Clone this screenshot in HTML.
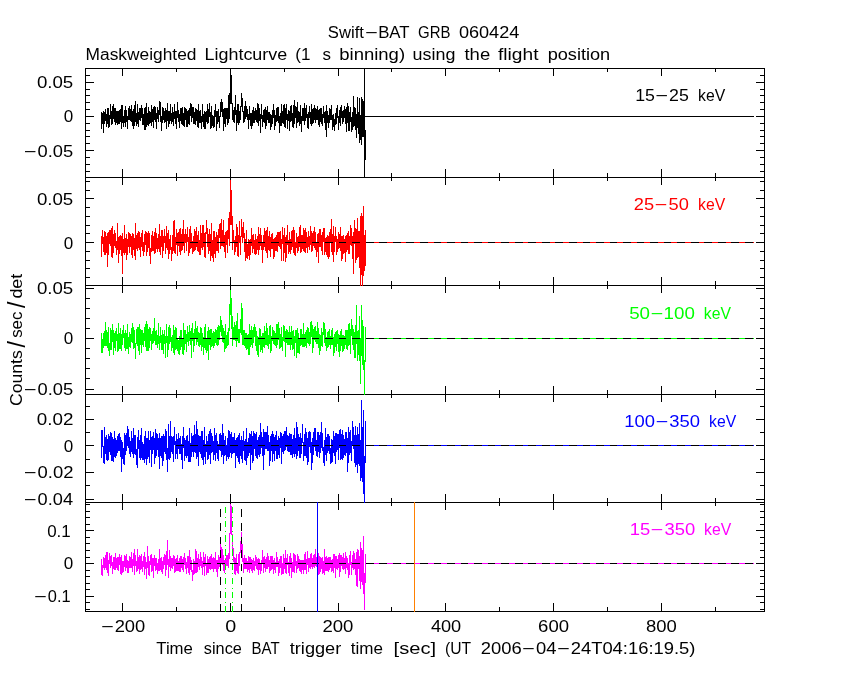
<!DOCTYPE html>
<html lang="en"><head><meta charset="utf-8"><title>Swift-BAT GRB 060424</title>
<style>
html,body{margin:0;padding:0;background:#fff;}
body{width:850px;height:680px;overflow:hidden;}
svg{display:block;}
text{font-family:"Liberation Sans",sans-serif;font-size:16px;fill:#000;}
.ln{shape-rendering:crispEdges;fill:none;stroke-width:1;}
</style></head><body>
<svg width="850" height="680" viewBox="0 0 850 680">
<rect x="0" y="0" width="850" height="680" fill="#ffffff"/>
<path class="ln" stroke="#000" d="M85.5,68.5H764.5V177.5H85.5ZM122.5,68.5v7.5M122.5,177.5v-8.5M176.5,68.5v3.5M176.5,177.5v-4.5M230.5,68.5v7.5M230.5,177.5v-8.5M284.5,68.5v3.5M284.5,177.5v-4.5M338.5,68.5v7.5M338.5,177.5v-8.5M391.5,68.5v3.5M391.5,177.5v-4.5M445.5,68.5v7.5M445.5,177.5v-8.5M499.5,68.5v3.5M499.5,177.5v-4.5M553.5,68.5v7.5M553.5,177.5v-8.5M607.5,68.5v3.5M607.5,177.5v-4.5M661.5,68.5v7.5M661.5,177.5v-8.5M715.5,68.5v3.5M715.5,177.5v-4.5M85.5,171.5h4.5M764.5,171.5h-4.5M85.5,164.5h4.5M764.5,164.5h-4.5M85.5,157.5h4.5M764.5,157.5h-4.5M85.5,150.5h8.5M764.5,150.5h-8.5M85.5,143.5h4.5M764.5,143.5h-4.5M85.5,136.5h4.5M764.5,136.5h-4.5M85.5,130.5h4.5M764.5,130.5h-4.5M85.5,123.5h4.5M764.5,123.5h-4.5M85.5,116.5h8.5M764.5,116.5h-8.5M85.5,109.5h4.5M764.5,109.5h-4.5M85.5,102.5h4.5M764.5,102.5h-4.5M85.5,95.5h4.5M764.5,95.5h-4.5M85.5,89.5h4.5M764.5,89.5h-4.5M85.5,82.5h8.5M764.5,82.5h-8.5M85.5,75.5h4.5M764.5,75.5h-4.5M85.5,177.5H764.5V285.5H85.5ZM122.5,177.5v7.5M122.5,285.5v-8.5M176.5,177.5v3.5M176.5,285.5v-4.5M230.5,177.5v7.5M230.5,285.5v-8.5M284.5,177.5v3.5M284.5,285.5v-4.5M338.5,177.5v7.5M338.5,285.5v-8.5M391.5,177.5v3.5M391.5,285.5v-4.5M445.5,177.5v7.5M445.5,285.5v-8.5M499.5,177.5v3.5M499.5,285.5v-4.5M553.5,177.5v7.5M553.5,285.5v-8.5M607.5,177.5v3.5M607.5,285.5v-4.5M661.5,177.5v7.5M661.5,285.5v-8.5M715.5,177.5v3.5M715.5,285.5v-4.5M85.5,277.5h4.5M764.5,277.5h-4.5M85.5,268.5h4.5M764.5,268.5h-4.5M85.5,260.5h4.5M764.5,260.5h-4.5M85.5,251.5h4.5M764.5,251.5h-4.5M85.5,242.5h8.5M764.5,242.5h-8.5M85.5,233.5h4.5M764.5,233.5h-4.5M85.5,225.5h4.5M764.5,225.5h-4.5M85.5,216.5h4.5M764.5,216.5h-4.5M85.5,207.5h4.5M764.5,207.5h-4.5M85.5,198.5h8.5M764.5,198.5h-8.5M85.5,190.5h4.5M764.5,190.5h-4.5M85.5,181.5h4.5M764.5,181.5h-4.5M85.5,285.5H764.5V394.5H85.5ZM122.5,285.5v7.5M122.5,394.5v-8.5M176.5,285.5v3.5M176.5,394.5v-4.5M230.5,285.5v7.5M230.5,394.5v-8.5M284.5,285.5v3.5M284.5,394.5v-4.5M338.5,285.5v7.5M338.5,394.5v-8.5M391.5,285.5v3.5M391.5,394.5v-4.5M445.5,285.5v7.5M445.5,394.5v-8.5M499.5,285.5v3.5M499.5,394.5v-4.5M553.5,285.5v7.5M553.5,394.5v-8.5M607.5,285.5v3.5M607.5,394.5v-4.5M661.5,285.5v7.5M661.5,394.5v-8.5M715.5,285.5v3.5M715.5,394.5v-4.5M85.5,389.5h8.5M764.5,389.5h-8.5M85.5,378.5h4.5M764.5,378.5h-4.5M85.5,368.5h4.5M764.5,368.5h-4.5M85.5,358.5h4.5M764.5,358.5h-4.5M85.5,348.5h4.5M764.5,348.5h-4.5M85.5,338.5h8.5M764.5,338.5h-8.5M85.5,328.5h4.5M764.5,328.5h-4.5M85.5,318.5h4.5M764.5,318.5h-4.5M85.5,308.5h4.5M764.5,308.5h-4.5M85.5,298.5h4.5M764.5,298.5h-4.5M85.5,288.5h8.5M764.5,288.5h-8.5M85.5,394.5H764.5V502.5H85.5ZM122.5,394.5v7.5M122.5,502.5v-8.5M176.5,394.5v3.5M176.5,502.5v-4.5M230.5,394.5v7.5M230.5,502.5v-8.5M284.5,394.5v3.5M284.5,502.5v-4.5M338.5,394.5v7.5M338.5,502.5v-8.5M391.5,394.5v3.5M391.5,502.5v-4.5M445.5,394.5v7.5M445.5,502.5v-8.5M499.5,394.5v3.5M499.5,502.5v-4.5M553.5,394.5v7.5M553.5,502.5v-8.5M607.5,394.5v3.5M607.5,502.5v-4.5M661.5,394.5v7.5M661.5,502.5v-8.5M715.5,394.5v3.5M715.5,502.5v-4.5M85.5,499.5h8.5M764.5,499.5h-8.5M85.5,485.5h4.5M764.5,485.5h-4.5M85.5,472.5h8.5M764.5,472.5h-8.5M85.5,459.5h4.5M764.5,459.5h-4.5M85.5,445.5h8.5M764.5,445.5h-8.5M85.5,432.5h4.5M764.5,432.5h-4.5M85.5,419.5h8.5M764.5,419.5h-8.5M85.5,406.5h4.5M764.5,406.5h-4.5M85.5,502.5H764.5V611.5H85.5ZM122.5,502.5v7.5M122.5,611.5v-8.5M176.5,502.5v3.5M176.5,611.5v-4.5M230.5,502.5v7.5M230.5,611.5v-8.5M284.5,502.5v3.5M284.5,611.5v-4.5M338.5,502.5v7.5M338.5,611.5v-8.5M391.5,502.5v3.5M391.5,611.5v-4.5M445.5,502.5v7.5M445.5,611.5v-8.5M499.5,502.5v3.5M499.5,611.5v-4.5M553.5,502.5v7.5M553.5,611.5v-8.5M607.5,502.5v3.5M607.5,611.5v-4.5M661.5,502.5v7.5M661.5,611.5v-8.5M715.5,502.5v3.5M715.5,611.5v-4.5M85.5,609.5h4.5M764.5,609.5h-4.5M85.5,602.5h4.5M764.5,602.5h-4.5M85.5,596.5h8.5M764.5,596.5h-8.5M85.5,589.5h4.5M764.5,589.5h-4.5M85.5,583.5h4.5M764.5,583.5h-4.5M85.5,576.5h4.5M764.5,576.5h-4.5M85.5,570.5h4.5M764.5,570.5h-4.5M85.5,563.5h8.5M764.5,563.5h-8.5M85.5,557.5h4.5M764.5,557.5h-4.5M85.5,550.5h4.5M764.5,550.5h-4.5M85.5,543.5h4.5M764.5,543.5h-4.5M85.5,537.5h4.5M764.5,537.5h-4.5M85.5,530.5h8.5M764.5,530.5h-8.5M85.5,524.5h4.5M764.5,524.5h-4.5M85.5,517.5h4.5M764.5,517.5h-4.5M85.5,511.5h4.5M764.5,511.5h-4.5M85.5,504.5h4.5M764.5,504.5h-4.5"/>
<clipPath id="c0"><rect x="85" y="68" width="680" height="110"/></clipPath>
<g clip-path="url(#c0)">
<path class="ln" stroke="#000000" d="M101.5,112V129M102.5,113V124M103.5,111V133M104.5,112V124M105.5,109V121M106.5,114V127M107.5,108V124M108.5,108V128M109.5,115V127M110.5,104V119M111.5,111V125M112.5,106V124M113.5,104V119M114.5,108V122M115.5,108V125M116.5,111V123M117.5,111V125M118.5,111V124M119.5,110V124M120.5,109V122M121.5,105V129M122.5,105V123M123.5,116V127M124.5,110V123M125.5,106V127M126.5,110V122M127.5,116V129M128.5,108V120M129.5,106V120M130.5,109V121M131.5,105V122M132.5,111V126M133.5,109V129M134.5,105V126M135.5,101V122M136.5,113V126M137.5,104V124M138.5,112V127M139.5,108V120M140.5,108V121M141.5,105V118M142.5,108V125M143.5,114V125M144.5,108V130M145.5,107V130M146.5,103V127M147.5,113V125M148.5,107V126M149.5,111V124M150.5,112V123M151.5,105V126M152.5,109V122M153.5,107V128M154.5,106V120M155.5,107V122M156.5,113V129M157.5,107V119M158.5,110V122M159.5,101V115M160.5,102V122M161.5,116V131M162.5,107V123M163.5,108V120M164.5,111V123M165.5,108V122M166.5,110V129M167.5,103V121M168.5,111V127M169.5,111V124M170.5,104V121M171.5,113V124M172.5,107V122M173.5,112V126M174.5,104V119M175.5,111V124M176.5,111V129M177.5,102V118M178.5,110V122M179.5,114V128M180.5,108V121M181.5,108V124M182.5,107V125M183.5,113V126M184.5,107V127M185.5,108V120M186.5,109V127M187.5,111V127M188.5,110V124M189.5,108V125M190.5,103V116M191.5,104V122M192.5,107V118M193.5,107V124M194.5,112V124M195.5,108V125M196.5,109V121M197.5,110V127M198.5,104V128M199.5,111V123M200.5,110V123M201.5,116V129M202.5,104V122M203.5,114V127M204.5,111V129M205.5,112V129M206.5,111V122M207.5,104V124M208.5,109V123M209.5,103V117M210.5,112V129M211.5,106V128M212.5,115V126M213.5,116V128M214.5,110V127M215.5,104V117M216.5,111V131M217.5,111V124M218.5,109V122M219.5,116V128M220.5,102V117M221.5,99V112M222.5,102V117M223.5,109V131M224.5,108V124M225.5,108V127M226.5,108V119M227.5,108V125M228.5,95V123M229.5,93V119M230.5,69V104M231.5,75V104M232.5,103V120M233.5,110V122M234.5,107V123M235.5,95V115M236.5,110V131M237.5,104V123M238.5,104V125M239.5,111V123M240.5,106V120M241.5,93V107M242.5,98V112M243.5,111V123M244.5,106V122M245.5,101V119M246.5,106V117M247.5,109V120M248.5,114V129M249.5,106V120M250.5,113V126M251.5,113V129M252.5,110V126M253.5,107V123M254.5,111V123M255.5,108V120M256.5,110V122M257.5,103V123M258.5,104V126M259.5,108V121M260.5,114V133M261.5,104V119M262.5,115V127M263.5,110V122M264.5,109V123M265.5,107V129M266.5,110V126M267.5,106V120M268.5,112V123M269.5,112V123M270.5,114V130M271.5,115V127M272.5,110V124M273.5,104V118M274.5,110V130M275.5,115V126M276.5,108V122M277.5,107V121M278.5,107V123M279.5,116V133M280.5,113V126M281.5,104V126M282.5,111V123M283.5,105V124M284.5,104V127M285.5,108V128M286.5,104V120M287.5,114V129M288.5,110V121M289.5,111V131M290.5,106V122M291.5,105V121M292.5,113V127M293.5,105V128M294.5,100V124M295.5,106V118M296.5,107V128M297.5,102V123M298.5,111V122M299.5,112V126M300.5,105V124M301.5,116V132M302.5,108V121M303.5,108V121M304.5,103V125M305.5,108V121M306.5,105V118M307.5,114V128M308.5,112V129M309.5,106V118M310.5,112V124M311.5,104V126M312.5,109V124M313.5,108V123M314.5,105V120M315.5,108V123M316.5,109V120M317.5,106V120M318.5,110V125M319.5,109V127M320.5,108V122M321.5,108V124M322.5,114V126M323.5,106V118M324.5,112V123M325.5,111V130M326.5,105V137M327.5,111V123M328.5,115V128M329.5,108V123M330.5,109V120M331.5,105V120M332.5,115V130M333.5,114V127M334.5,119V131M335.5,113V125M336.5,108V124M337.5,105V118M338.5,116V130M339.5,110V123M340.5,107V126M341.5,105V118M342.5,111V124M343.5,110V122M344.5,106V118M345.5,109V124M346.5,107V132M347.5,103V123M348.5,106V131M349.5,112V131M350.5,107V122M351.5,117V132M352.5,112V130M353.5,96V127M354.5,107V126M355.5,108V130M356.5,114V138M357.5,97V128M358.5,112V134M359.5,98V143M360.5,115V140M361.5,97V145M362.5,99V137M363.5,101V137M364.5,117V146M365.5,130V160M365,116.5H754"/>
</g>
<clipPath id="c1"><rect x="85" y="177" width="680" height="109"/></clipPath>
<g clip-path="url(#c1)">
<path class="ln" stroke="#ff0000" d="M101.5,236V257M102.5,230V244M103.5,237V252M104.5,231V255M105.5,232V255M106.5,236V253M107.5,233V267M108.5,232V255M109.5,230V244M110.5,230V246M111.5,228V257M112.5,226V258M113.5,234V253M114.5,230V246M115.5,233V248M116.5,241V255M117.5,223V250M118.5,237V263M119.5,236V254M120.5,235V250M121.5,236V256M122.5,233V274M123.5,239V253M124.5,225V255M125.5,238V253M126.5,234V260M127.5,239V255M128.5,232V247M129.5,233V253M130.5,234V247M131.5,236V255M132.5,233V258M133.5,234V250M134.5,238V256M135.5,223V260M136.5,235V249M137.5,233V251M138.5,231V248M139.5,232V250M140.5,237V257M141.5,233V247M142.5,230V251M143.5,242V256M144.5,234V252M145.5,231V245M146.5,232V256M147.5,233V252M148.5,231V248M149.5,233V256M150.5,248V264M151.5,235V252M152.5,231V251M153.5,236V251M154.5,232V254M155.5,228V253M156.5,233V249M157.5,238V252M158.5,234V249M159.5,224V252M160.5,236V255M161.5,230V247M162.5,230V258M163.5,236V251M164.5,229V243M165.5,236V254M166.5,226V248M167.5,233V250M168.5,230V259M169.5,239V254M170.5,235V250M171.5,247V261M172.5,235V254M173.5,221V251M174.5,220V253M175.5,237V254M176.5,229V245M177.5,233V256M178.5,232V246M179.5,229V252M180.5,228V255M181.5,234V251M182.5,229V250M183.5,220V246M184.5,234V253M185.5,229V243M186.5,234V251M187.5,227V242M188.5,237V256M189.5,229V253M190.5,226V249M191.5,233V248M192.5,241V254M193.5,236V252M194.5,229V251M195.5,231V250M196.5,227V247M197.5,235V251M198.5,231V252M199.5,240V255M200.5,225V255M201.5,233V248M202.5,225V250M203.5,225V247M204.5,233V257M205.5,232V258M206.5,220V234M207.5,228V247M208.5,234V254M209.5,229V251M210.5,234V261M211.5,223V256M212.5,240V258M213.5,231V262M214.5,231V254M215.5,237V258M216.5,232V251M217.5,235V251M218.5,229V253M219.5,224V238M220.5,223V249M221.5,219V246M222.5,230V246M223.5,220V247M224.5,235V252M225.5,232V258M226.5,231V245M227.5,230V253M228.5,218V239M229.5,212V246M230.5,180V225M231.5,190V225M232.5,216V250M233.5,230V243M234.5,240V255M235.5,236V252M236.5,224V247M237.5,227V256M238.5,235V257M239.5,221V243M240.5,236V255M241.5,219V237M242.5,227V243M243.5,222V238M244.5,233V252M245.5,239V261M246.5,230V258M247.5,244V259M248.5,239V256M249.5,240V260M250.5,239V255M251.5,228V246M252.5,235V253M253.5,234V249M254.5,240V254M255.5,234V255M256.5,239V254M257.5,236V250M258.5,227V255M259.5,234V250M260.5,228V246M261.5,235V250M262.5,242V263M263.5,235V250M264.5,228V247M265.5,231V251M266.5,230V253M267.5,227V258M268.5,236V250M269.5,231V251M270.5,237V257M271.5,234V249M272.5,233V249M273.5,239V259M274.5,238V257M275.5,237V251M276.5,235V251M277.5,232V252M278.5,232V246M279.5,232V247M280.5,231V249M281.5,239V261M282.5,227V244M283.5,235V261M284.5,228V253M285.5,237V262M286.5,235V258M287.5,225V245M288.5,240V254M289.5,232V252M290.5,239V254M291.5,231V250M292.5,230V247M293.5,227V253M294.5,230V255M295.5,242V256M296.5,233V248M297.5,237V253M298.5,236V251M299.5,227V247M300.5,225V253M301.5,235V252M302.5,235V249M303.5,228V251M304.5,230V252M305.5,228V253M306.5,232V248M307.5,237V253M308.5,231V247M309.5,236V250M310.5,226V245M311.5,231V252M312.5,233V251M313.5,231V246M314.5,227V248M315.5,232V250M316.5,243V257M317.5,234V252M318.5,233V263M319.5,229V247M320.5,229V247M321.5,235V251M322.5,232V255M323.5,228V242M324.5,228V255M325.5,238V252M326.5,237V255M327.5,235V257M328.5,236V259M329.5,232V257M330.5,229V243M331.5,219V252M332.5,234V255M333.5,226V262M334.5,236V252M335.5,227V242M336.5,236V255M337.5,239V252M338.5,232V249M339.5,234V248M340.5,227V251M341.5,236V261M342.5,236V259M343.5,235V254M344.5,239V253M345.5,236V262M346.5,235V252M347.5,233V250M348.5,231V254M349.5,236V254M350.5,225V245M351.5,228V246M352.5,236V259M353.5,232V274M354.5,220V244M355.5,228V263M356.5,229V260M357.5,218V258M358.5,231V257M359.5,231V268M360.5,216V286M361.5,213V275M362.5,216V286M363.5,206V276M364.5,235V271M365.5,230V266M365,242.5H754"/>
<line class="ln" stroke="#000" stroke-dasharray="7.7 5.84" x1="176.3" y1="242.5" x2="754" y2="242.5"/>
</g>
<clipPath id="c2"><rect x="85" y="285" width="680" height="110"/></clipPath>
<g clip-path="url(#c2)">
<path class="ln" stroke="#00ff00" d="M101.5,333V353M102.5,339V353M103.5,333V348M104.5,331V346M105.5,322V346M106.5,330V346M107.5,332V348M108.5,327V351M109.5,343V356M110.5,328V350M111.5,330V350M112.5,324V342M113.5,330V355M114.5,333V348M115.5,331V351M116.5,328V341M117.5,334V352M118.5,323V351M119.5,333V349M120.5,328V349M121.5,334V351M122.5,330V345M123.5,325V338M124.5,333V348M125.5,330V351M126.5,333V349M127.5,324V349M128.5,337V354M129.5,332V347M130.5,334V348M131.5,328V342M132.5,323V343M133.5,327V349M134.5,330V348M135.5,343V359M136.5,329V344M137.5,327V346M138.5,327V351M139.5,324V355M140.5,329V345M141.5,330V353M142.5,330V345M143.5,333V347M144.5,327V341M145.5,324V347M146.5,321V351M147.5,324V351M148.5,329V351M149.5,327V348M150.5,328V341M151.5,334V350M152.5,331V344M153.5,328V343M154.5,318V341M155.5,331V345M156.5,330V345M157.5,335V348M158.5,323V344M159.5,336V350M160.5,327V343M161.5,335V350M162.5,330V350M163.5,334V354M164.5,330V344M165.5,336V358M166.5,324V343M167.5,336V357M168.5,327V350M169.5,325V344M170.5,328V342M171.5,337V351M172.5,335V348M173.5,325V353M174.5,330V355M175.5,327V350M176.5,328V349M177.5,338V351M178.5,340V354M179.5,336V355M180.5,330V350M181.5,330V347M182.5,338V354M183.5,323V355M184.5,330V350M185.5,330V344M186.5,334V352M187.5,326V342M188.5,332V346M189.5,325V341M190.5,331V345M191.5,328V358M192.5,323V341M193.5,333V352M194.5,329V346M195.5,321V339M196.5,328V345M197.5,326V342M198.5,332V346M199.5,333V347M200.5,327V345M201.5,328V351M202.5,333V347M203.5,337V355M204.5,327V348M205.5,324V350M206.5,339V353M207.5,331V351M208.5,327V360M209.5,330V345M210.5,329V350M211.5,329V347M212.5,333V346M213.5,331V348M214.5,332V346M215.5,329V343M216.5,330V345M217.5,327V346M218.5,325V345M219.5,326V340M220.5,316V332M221.5,320V336M222.5,325V342M223.5,328V343M224.5,331V352M225.5,324V349M226.5,335V348M227.5,332V346M228.5,328V345M229.5,304V331M230.5,290V315M231.5,298V329M232.5,316V346M233.5,327V340M234.5,322V340M235.5,325V341M236.5,321V347M237.5,313V341M238.5,329V343M239.5,329V343M240.5,319V333M241.5,303V335M242.5,308V345M243.5,330V345M244.5,330V346M245.5,333V348M246.5,333V350M247.5,335V349M248.5,334V355M249.5,324V355M250.5,330V347M251.5,326V345M252.5,330V348M253.5,327V343M254.5,324V337M255.5,327V346M256.5,331V351M257.5,336V355M258.5,337V357M259.5,328V345M260.5,329V352M261.5,336V350M262.5,333V353M263.5,333V347M264.5,326V348M265.5,331V345M266.5,323V345M267.5,328V346M268.5,335V349M269.5,326V344M270.5,325V353M271.5,336V351M272.5,327V341M273.5,330V344M274.5,331V345M275.5,333V346M276.5,324V348M277.5,324V345M278.5,322V340M279.5,328V349M280.5,334V348M281.5,327V347M282.5,337V351M283.5,325V341M284.5,326V342M285.5,331V357M286.5,329V343M287.5,330V345M288.5,332V345M289.5,326V345M290.5,332V350M291.5,326V345M292.5,331V350M293.5,330V349M294.5,336V356M295.5,330V343M296.5,330V358M297.5,328V353M298.5,333V353M299.5,338V354M300.5,329V346M301.5,329V345M302.5,334V347M303.5,323V347M304.5,334V347M305.5,332V346M306.5,330V348M307.5,327V343M308.5,328V344M309.5,332V346M310.5,322V344M311.5,321V337M312.5,325V353M313.5,329V348M314.5,327V340M315.5,326V342M316.5,331V344M317.5,322V344M318.5,328V348M319.5,334V355M320.5,335V351M321.5,328V346M322.5,332V347M323.5,322V335M324.5,323V343M325.5,329V346M326.5,337V351M327.5,332V348M328.5,331V347M329.5,329V345M330.5,336V349M331.5,330V345M332.5,328V345M333.5,337V356M334.5,334V353M335.5,332V347M336.5,331V351M337.5,330V344M338.5,334V352M339.5,335V357M340.5,331V351M341.5,329V346M342.5,335V352M343.5,335V351M344.5,336V349M345.5,330V345M346.5,330V349M347.5,330V350M348.5,324V346M349.5,323V345M350.5,329V354M351.5,319V336M352.5,325V345M353.5,329V350M354.5,332V358M355.5,325V358M356.5,305V344M357.5,331V361M358.5,330V355M359.5,316V361M360.5,338V384M361.5,305V356M362.5,320V365M363.5,326V370M364.5,360V395M365.5,327V362M365,338.5H754"/>
<line class="ln" stroke="#000" stroke-dasharray="7.7 5.84" x1="176.3" y1="338.5" x2="754" y2="338.5"/>
</g>
<clipPath id="c3"><rect x="85" y="394" width="680" height="109"/></clipPath>
<g clip-path="url(#c3)">
<path class="ln" stroke="#0000ff" d="M101.5,430V458M102.5,430V447M103.5,446V463M104.5,427V464M105.5,437V454M106.5,435V460M107.5,439V461M108.5,434V460M109.5,436V452M110.5,432V455M111.5,433V461M112.5,437V461M113.5,439V462M114.5,431V457M115.5,438V458M116.5,440V456M117.5,436V453M118.5,434V451M119.5,433V451M120.5,437V457M121.5,440V472M122.5,442V459M123.5,448V464M124.5,433V465M125.5,435V455M126.5,433V451M127.5,426V446M128.5,429V448M129.5,437V454M130.5,441V457M131.5,431V452M132.5,438V454M133.5,428V458M134.5,435V454M135.5,435V455M136.5,449V465M137.5,437V468M138.5,430V449M139.5,440V458M140.5,435V460M141.5,428V458M142.5,442V460M143.5,444V460M144.5,436V463M145.5,431V459M146.5,438V465M147.5,438V459M148.5,431V457M149.5,440V463M150.5,431V450M151.5,437V467M152.5,436V454M153.5,432V450M154.5,438V464M155.5,429V458M156.5,433V456M157.5,434V450M158.5,438V457M159.5,433V469M160.5,438V456M161.5,436V458M162.5,436V466M163.5,434V461M164.5,436V452M165.5,429V454M166.5,431V460M167.5,448V472M168.5,424V459M169.5,436V460M170.5,421V458M171.5,436V452M172.5,437V454M173.5,436V462M174.5,427V445M175.5,441V459M176.5,434V454M177.5,439V459M178.5,433V449M179.5,438V454M180.5,436V454M181.5,444V460M182.5,436V469M183.5,427V448M184.5,438V461M185.5,440V456M186.5,436V458M187.5,435V456M188.5,441V462M189.5,428V462M190.5,443V462M191.5,433V457M192.5,436V452M193.5,435V457M194.5,425V452M195.5,434V453M196.5,421V459M197.5,429V457M198.5,435V466M199.5,436V452M200.5,436V454M201.5,431V458M202.5,431V460M203.5,440V465M204.5,427V457M205.5,444V464M206.5,436V452M207.5,441V460M208.5,434V459M209.5,431V455M210.5,429V464M211.5,433V453M212.5,436V452M213.5,441V460M214.5,428V455M215.5,435V461M216.5,433V453M217.5,441V459M218.5,444V461M219.5,434V450M220.5,433V451M221.5,435V457M222.5,424V455M223.5,433V464M224.5,440V456M225.5,436V455M226.5,445V461M227.5,438V457M228.5,430V459M229.5,431V457M230.5,434V453M231.5,432V458M232.5,437V454M233.5,437V453M234.5,433V453M235.5,440V468M236.5,438V456M237.5,437V458M238.5,435V462M239.5,433V464M240.5,440V456M241.5,436V459M242.5,440V463M243.5,431V451M244.5,441V460M245.5,439V461M246.5,428V465M247.5,442V458M248.5,438V456M249.5,433V453M250.5,434V470M251.5,431V455M252.5,436V463M253.5,431V461M254.5,433V449M255.5,434V456M256.5,432V458M257.5,440V459M258.5,437V455M259.5,435V457M260.5,423V454M261.5,432V448M262.5,437V456M263.5,429V470M264.5,432V455M265.5,432V449M266.5,432V449M267.5,426V451M268.5,435V451M269.5,442V466M270.5,436V461M271.5,434V451M272.5,431V462M273.5,434V454M274.5,437V461M275.5,435V451M276.5,431V459M277.5,440V459M278.5,436V455M279.5,438V458M280.5,432V448M281.5,433V464M282.5,436V452M283.5,434V454M284.5,431V451M285.5,431V450M286.5,427V447M287.5,435V451M288.5,436V452M289.5,433V452M290.5,434V455M291.5,434V455M292.5,439V458M293.5,435V454M294.5,428V457M295.5,438V454M296.5,422V459M297.5,427V456M298.5,434V451M299.5,437V458M300.5,433V458M301.5,438V454M302.5,424V443M303.5,442V461M304.5,434V456M305.5,428V456M306.5,432V458M307.5,438V465M308.5,432V462M309.5,431V447M310.5,432V453M311.5,442V470M312.5,438V463M313.5,432V455M314.5,428V447M315.5,428V451M316.5,440V456M317.5,432V457M318.5,432V452M319.5,435V458M320.5,432V453M321.5,422V448M322.5,433V451M323.5,447V463M324.5,440V466M325.5,428V455M326.5,437V461M327.5,434V453M328.5,434V451M329.5,436V454M330.5,448V464M331.5,439V463M332.5,440V462M333.5,431V453M334.5,436V456M335.5,433V464M336.5,433V452M337.5,434V450M338.5,434V460M339.5,430V448M340.5,429V460M341.5,434V459M342.5,430V460M343.5,435V458M344.5,439V455M345.5,432V456M346.5,432V453M347.5,438V472M348.5,427V463M349.5,432V455M350.5,430V453M351.5,441V461M352.5,421V445M353.5,427V449M354.5,435V463M355.5,426V467M356.5,435V465M357.5,427V473M358.5,434V464M359.5,423V466M360.5,440V481M361.5,400V478M362.5,427V482M363.5,410V494M364.5,456V503M365.5,421V463M365,445.5H754"/>
<line class="ln" stroke="#000" stroke-dasharray="7.7 5.84" x1="176.3" y1="445.5" x2="754" y2="445.5"/>
</g>
<clipPath id="c4"><rect x="85" y="502" width="680" height="110"/></clipPath>
<g clip-path="url(#c4)">
<path class="ln" stroke="#ff00ff" d="M101.5,559V575M102.5,565V576M103.5,557V568M104.5,558V570M105.5,555V568M106.5,552V570M107.5,552V573M108.5,560V576M109.5,553V564M110.5,556V568M111.5,555V566M112.5,562V574M113.5,557V569M114.5,557V570M115.5,553V570M116.5,558V568M117.5,557V570M118.5,557V571M119.5,554V565M120.5,557V574M121.5,555V575M122.5,561V573M123.5,561V572M124.5,555V567M125.5,556V571M126.5,554V568M127.5,560V573M128.5,561V573M129.5,556V568M130.5,557V568M131.5,552V568M132.5,559V572M133.5,553V566M134.5,549V575M135.5,555V566M136.5,561V572M137.5,549V571M138.5,557V569M139.5,555V574M140.5,556V570M141.5,554V569M142.5,561V572M143.5,556V567M144.5,552V575M145.5,557V569M146.5,562V579M147.5,546V568M148.5,556V575M149.5,561V576M150.5,555V565M151.5,554V572M152.5,558V571M153.5,558V578M154.5,555V566M155.5,558V571M156.5,558V570M157.5,563V574M158.5,559V571M159.5,549V571M160.5,558V570M161.5,557V572M162.5,561V574M163.5,557V569M164.5,554V565M165.5,555V576M166.5,551V570M167.5,540V565M168.5,559V578M169.5,550V567M170.5,556V571M171.5,558V568M172.5,558V569M173.5,555V566M174.5,556V573M175.5,559V572M176.5,558V571M177.5,555V571M178.5,561V571M179.5,558V572M180.5,556V572M181.5,556V568M182.5,559V570M183.5,557V572M184.5,553V565M185.5,558V569M186.5,562V574M187.5,556V568M188.5,556V573M189.5,550V575M190.5,557V570M191.5,560V572M192.5,570V581M193.5,559V575M194.5,561V574M195.5,549V573M196.5,551V573M197.5,558V572M198.5,554V567M199.5,559V570M200.5,552V566M201.5,557V568M202.5,561V575M203.5,552V567M204.5,557V576M205.5,554V566M206.5,564V575M207.5,556V573M208.5,559V573M209.5,557V569M210.5,556V570M211.5,554V569M212.5,558V569M213.5,557V572M214.5,558V569M215.5,552V569M216.5,560V572M217.5,560V577M218.5,555V569M219.5,557V567M220.5,543V569M221.5,547V564M222.5,549V565M223.5,555V571M224.5,560V573M225.5,558V570M226.5,555V566M227.5,555V566M228.5,553V568M229.5,533V559M230.5,504V534M231.5,506V535M232.5,534V554M233.5,548V562M234.5,557V574M235.5,558V575M236.5,554V571M237.5,563V573M238.5,554V574M239.5,552V566M240.5,541V553M241.5,532V554M242.5,544V562M243.5,558V573M244.5,555V569M245.5,558V569M246.5,558V569M247.5,561V572M248.5,556V570M249.5,557V573M250.5,557V569M251.5,559V571M252.5,560V573M253.5,558V570M254.5,561V571M255.5,555V566M256.5,557V569M257.5,559V570M258.5,558V575M259.5,559V570M260.5,563V574M261.5,560V571M262.5,550V564M263.5,557V573M264.5,556V568M265.5,559V572M266.5,557V569M267.5,553V569M268.5,556V567M269.5,560V573M270.5,556V571M271.5,556V570M272.5,556V569M273.5,560V574M274.5,558V570M275.5,562V573M276.5,552V567M277.5,557V567M278.5,561V576M279.5,559V573M280.5,556V568M281.5,556V575M282.5,563V574M283.5,554V574M284.5,558V569M285.5,550V573M286.5,558V574M287.5,554V565M288.5,562V573M289.5,556V576M290.5,553V568M291.5,558V578M292.5,562V572M293.5,553V572M294.5,554V573M295.5,555V566M296.5,561V573M297.5,554V569M298.5,556V568M299.5,559V571M300.5,560V572M301.5,560V574M302.5,560V570M303.5,560V574M304.5,554V570M305.5,552V570M306.5,559V574M307.5,551V565M308.5,558V572M309.5,558V568M310.5,554V569M311.5,553V567M312.5,558V569M313.5,555V567M314.5,554V568M315.5,549V566M316.5,557V567M317.5,550V563M318.5,553V575M319.5,556V574M320.5,557V572M321.5,558V569M322.5,557V574M323.5,561V573M324.5,549V575M325.5,557V571M326.5,556V571M327.5,558V571M328.5,557V572M329.5,557V570M330.5,557V568M331.5,560V572M332.5,559V571M333.5,554V573M334.5,554V568M335.5,556V578M336.5,556V569M337.5,559V570M338.5,555V568M339.5,553V577M340.5,555V572M341.5,555V566M342.5,557V569M343.5,553V570M344.5,558V569M345.5,552V574M346.5,556V568M347.5,558V570M348.5,563V578M349.5,555V575M350.5,551V565M351.5,562V575M352.5,555V568M353.5,551V570M354.5,553V569M355.5,559V575M356.5,552V586M357.5,549V587M358.5,550V569M359.5,556V581M360.5,542V589M361.5,548V582M362.5,550V585M363.5,536V594M364.5,573V610M365.5,554V583M365,563.5H754"/>
<line class="ln" stroke="#000" stroke-dasharray="7.7 5.84" x1="176.3" y1="563.5" x2="754" y2="563.5"/>
</g>
<line class="ln" stroke="#000" x1="364.5" y1="68" x2="364.5" y2="178"/>
<line class="ln" stroke="#0000ff" x1="317.5" y1="502" x2="317.5" y2="612"/>
<line class="ln" stroke="#ff8000" x1="414.5" y1="502" x2="414.5" y2="612"/>
<line class="ln" stroke="#000" stroke-dasharray="7.6 5.9" x1="220.5" y1="611.6" x2="220.5" y2="509.3"/>
<line class="ln" stroke="#000" stroke-dasharray="7.6 5.9" x1="241.5" y1="611.6" x2="241.5" y2="509.3"/>
<line class="ln" stroke="#00ff00" stroke-dasharray="6.5 3.3 1.1 3.3" stroke-dashoffset="1" x1="225.5" y1="611.6" x2="225.5" y2="506"/>
<line class="ln" stroke="#00ff00" stroke-dasharray="6.5 3.3 1.1 3.3" stroke-dashoffset="1" x1="232.5" y1="611.6" x2="232.5" y2="506"/>
<text y="38"><tspan x="327.87" textLength="36.01" lengthAdjust="spacingAndGlyphs">Swift</tspan><tspan x="364.93" textLength="12.58" lengthAdjust="spacingAndGlyphs">−</tspan><tspan x="378.16" textLength="31.08" lengthAdjust="spacingAndGlyphs">BAT</tspan> <tspan x="418.05" textLength="32.37" lengthAdjust="spacingAndGlyphs">GRB</tspan> <tspan x="458.92" textLength="60.42" lengthAdjust="spacingAndGlyphs">060424</tspan></text>
<text y="60"><tspan x="85.59" textLength="110.86" lengthAdjust="spacingAndGlyphs">Maskweighted</tspan> <tspan x="204.54" textLength="82.66" lengthAdjust="spacingAndGlyphs">Lightcurve</tspan> <tspan x="295.34" textLength="15.14" lengthAdjust="spacingAndGlyphs">(1</tspan> <tspan x="322.58" textLength="8.46" lengthAdjust="spacingAndGlyphs">s</tspan> <tspan x="339.24" textLength="65.83" lengthAdjust="spacingAndGlyphs">binning)</tspan> <tspan x="412.58" textLength="42.78" lengthAdjust="spacingAndGlyphs">using</tspan> <tspan x="464.47" textLength="25.69" lengthAdjust="spacingAndGlyphs">the</tspan> <tspan x="498.06" textLength="40.44" lengthAdjust="spacingAndGlyphs">flight</tspan> <tspan x="547.67" textLength="62.51" lengthAdjust="spacingAndGlyphs">position</tspan></text>
<text y="654"><tspan x="156.29" textLength="36.61" lengthAdjust="spacingAndGlyphs">Time</tspan> <tspan x="203.89" textLength="37.97" lengthAdjust="spacingAndGlyphs">since</tspan> <tspan x="251.59" textLength="27.81" lengthAdjust="spacingAndGlyphs">BAT</tspan> <tspan x="289.77" textLength="51.51" lengthAdjust="spacingAndGlyphs">trigger</tspan> <tspan x="350.79" textLength="32.19" lengthAdjust="spacingAndGlyphs">time</tspan> <tspan x="393.62" textLength="42.48" lengthAdjust="spacingAndGlyphs">[sec]</tspan> <tspan x="444.93" textLength="25.81" lengthAdjust="spacingAndGlyphs">(UT</tspan> <tspan x="480.78" textLength="40.92" lengthAdjust="spacingAndGlyphs">2006</tspan><tspan x="522.03" textLength="12.58" lengthAdjust="spacingAndGlyphs">−</tspan><tspan x="535.91" textLength="20.46" lengthAdjust="spacingAndGlyphs">04</tspan><tspan x="557.04" textLength="12.58" lengthAdjust="spacingAndGlyphs">−</tspan><tspan x="570.70" textLength="124.76" lengthAdjust="spacingAndGlyphs">24T04:16:19.5)</tspan></text>
<text y="632"><tspan x="101.02" textLength="12.58" lengthAdjust="spacingAndGlyphs">−</tspan><tspan x="114.68" textLength="30.60" lengthAdjust="spacingAndGlyphs">200</tspan> <tspan x="225.26" textLength="10.98" lengthAdjust="spacingAndGlyphs">0</tspan> <tspan x="322.52" textLength="30.92" lengthAdjust="spacingAndGlyphs">200</tspan> <tspan x="430.91" textLength="30.32" lengthAdjust="spacingAndGlyphs">400</tspan> <tspan x="538.12" textLength="30.92" lengthAdjust="spacingAndGlyphs">600</tspan> <tspan x="646.04" textLength="30.79" lengthAdjust="spacingAndGlyphs">800</tspan></text>
<text y="88.0"><tspan x="36.90" textLength="36.35" lengthAdjust="spacingAndGlyphs">0.05</tspan></text>
<text y="122.2"><tspan x="63.66" textLength="9.48" lengthAdjust="spacingAndGlyphs">0</tspan></text>
<text y="156.5"><tspan x="23.72" textLength="12.58" lengthAdjust="spacingAndGlyphs">−</tspan><tspan x="37.61" textLength="35.62" lengthAdjust="spacingAndGlyphs">0.05</tspan></text>
<text y="204.8"><tspan x="36.90" textLength="36.35" lengthAdjust="spacingAndGlyphs">0.05</tspan></text>
<text y="248.5"><tspan x="63.66" textLength="9.48" lengthAdjust="spacingAndGlyphs">0</tspan></text>
<text y="293.9"><tspan x="36.90" textLength="36.35" lengthAdjust="spacingAndGlyphs">0.05</tspan></text>
<text y="344.4"><tspan x="63.66" textLength="9.48" lengthAdjust="spacingAndGlyphs">0</tspan></text>
<text y="394.9"><tspan x="23.72" textLength="12.58" lengthAdjust="spacingAndGlyphs">−</tspan><tspan x="37.61" textLength="35.62" lengthAdjust="spacingAndGlyphs">0.05</tspan></text>
<text y="425.1"><tspan x="36.89" textLength="36.59" lengthAdjust="spacingAndGlyphs">0.02</tspan></text>
<text y="451.7"><tspan x="63.66" textLength="9.48" lengthAdjust="spacingAndGlyphs">0</tspan></text>
<text y="478.3"><tspan x="23.72" textLength="12.58" lengthAdjust="spacingAndGlyphs">−</tspan><tspan x="37.61" textLength="35.86" lengthAdjust="spacingAndGlyphs">0.02</tspan></text>
<text y="504.8"><tspan x="23.72" textLength="12.58" lengthAdjust="spacingAndGlyphs">−</tspan><tspan x="37.62" textLength="35.38" lengthAdjust="spacingAndGlyphs">0.04</tspan></text>
<text y="536.6"><tspan x="47.17" textLength="23.53" lengthAdjust="spacingAndGlyphs">0.1</tspan></text>
<text y="569.4"><tspan x="63.66" textLength="9.48" lengthAdjust="spacingAndGlyphs">0</tspan></text>
<text y="602.2"><tspan x="33.92" textLength="12.58" lengthAdjust="spacingAndGlyphs">−</tspan><tspan x="47.89" textLength="22.78" lengthAdjust="spacingAndGlyphs">0.1</tspan></text>
<text y="101.0" style="fill:#000000"><tspan x="635.17" textLength="19.72" lengthAdjust="spacingAndGlyphs">15</tspan><tspan x="655.35" textLength="12.58" lengthAdjust="spacingAndGlyphs">−</tspan><tspan x="669.04" textLength="19.72" lengthAdjust="spacingAndGlyphs">25</tspan> <tspan x="698.12" textLength="27.15" lengthAdjust="spacingAndGlyphs">keV</tspan></text>
<text y="210.0" style="fill:#ff0000"><tspan x="633.89" textLength="20.28" lengthAdjust="spacingAndGlyphs">25</tspan><tspan x="654.61" textLength="12.58" lengthAdjust="spacingAndGlyphs">−</tspan><tspan x="668.50" textLength="20.28" lengthAdjust="spacingAndGlyphs">50</tspan> <tspan x="698.12" textLength="27.15" lengthAdjust="spacingAndGlyphs">keV</tspan></text>
<text y="318.6" style="fill:#00ff00"><tspan x="629.20" textLength="20.84" lengthAdjust="spacingAndGlyphs">50</tspan><tspan x="650.46" textLength="12.58" lengthAdjust="spacingAndGlyphs">−</tspan><tspan x="663.63" textLength="31.26" lengthAdjust="spacingAndGlyphs">100</tspan> <tspan x="703.82" textLength="27.15" lengthAdjust="spacingAndGlyphs">keV</tspan></text>
<text y="427.0" style="fill:#0000ff"><tspan x="624.32" textLength="30.72" lengthAdjust="spacingAndGlyphs">100</tspan><tspan x="655.48" textLength="12.58" lengthAdjust="spacingAndGlyphs">−</tspan><tspan x="669.36" textLength="30.72" lengthAdjust="spacingAndGlyphs">350</tspan> <tspan x="709.02" textLength="27.15" lengthAdjust="spacingAndGlyphs">keV</tspan></text>
<text y="535.4" style="fill:#ff00ff"><tspan x="629.72" textLength="20.46" lengthAdjust="spacingAndGlyphs">15</tspan><tspan x="650.61" textLength="12.58" lengthAdjust="spacingAndGlyphs">−</tspan><tspan x="664.50" textLength="30.68" lengthAdjust="spacingAndGlyphs">350</tspan> <tspan x="704.12" textLength="27.15" lengthAdjust="spacingAndGlyphs">keV</tspan></text>
<g transform="translate(22.1 405.2) rotate(-90)">
<text><tspan x="-0.88" y="0" textLength="55.84" lengthAdjust="spacingAndGlyphs">Counts</tspan><tspan x="60.9" y="3" text-anchor="middle" style="font-size:23px">/</tspan><tspan x="67.38" y="0" textLength="26.24" lengthAdjust="spacingAndGlyphs">sec</tspan><tspan x="100.5" y="3" text-anchor="middle" style="font-size:23px">/</tspan><tspan x="106.63" y="0" textLength="24.82" lengthAdjust="spacingAndGlyphs">det</tspan></text>
</g>
</svg></body></html>
